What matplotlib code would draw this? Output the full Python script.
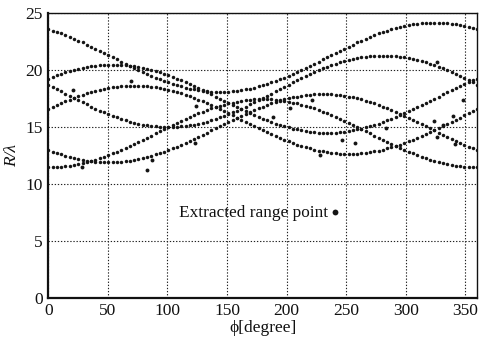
import numpy as np
import matplotlib
matplotlib.use("Agg")
import matplotlib.pyplot as plt

plt.rcParams['font.family'] = ['Liberation Serif', 'DejaVu Serif']

# sampling angles of the range profiles (degrees), 3.6 degree step
phi = np.arange(101) * 3.6

# range curves R/lambda
curve_a = [23.62, 23.50, 23.37, 23.24, 23.09, 22.94, 22.78, 22.62, 22.45, 22.27,
           22.09, 21.91, 21.72, 21.53, 21.34, 21.15, 20.96, 20.77, 20.58, 20.39,
           20.21, 20.03, 19.85, 19.68, 19.52, 19.36, 19.21, 19.06, 18.93, 18.80,
           18.68, 18.58, 18.48, 18.39, 18.31, 18.25, 18.20, 18.15, 18.12, 18.11,
           18.10, 18.11, 18.12, 18.15, 18.20, 18.25, 18.31, 18.39, 18.48, 18.58,
           18.68, 18.80, 18.93, 19.06, 19.21, 19.36, 19.52, 19.68, 19.85, 20.03,
           20.21, 20.39, 20.58, 20.77, 20.96, 21.15, 21.34, 21.53, 21.72, 21.91,
           22.09, 22.27, 22.45, 22.62, 22.78, 22.94, 23.09, 23.24, 23.37, 23.50,
           23.62, 23.73, 23.82, 23.91, 23.99, 24.05, 24.10, 24.15, 24.18, 24.19,
           24.20, 24.19, 24.18, 24.15, 24.10, 24.05, 23.99, 23.91, 23.82, 23.73,
           23.62]
curve_b = [18.74, 18.55, 18.35, 18.15, 17.95, 17.75, 17.56, 17.37, 17.18, 16.99,
           16.81, 16.63, 16.46, 16.30, 16.14, 15.99, 15.85, 15.72, 15.60, 15.49,
           15.39, 15.30, 15.22, 15.15, 15.10, 15.06, 15.03, 15.01, 15.00, 15.01,
           15.03, 15.06, 15.10, 15.15, 15.22, 15.30, 15.39, 15.49, 15.60, 15.72,
           15.85, 15.99, 16.14, 16.30, 16.46, 16.63, 16.81, 16.99, 17.18, 17.37,
           17.56, 17.75, 17.95, 18.15, 18.35, 18.55, 18.74, 18.93, 19.12, 19.31,
           19.49, 19.67, 19.84, 20.00, 20.16, 20.31, 20.45, 20.58, 20.70, 20.81,
           20.91, 21.00, 21.08, 21.15, 21.20, 21.24, 21.28, 21.29, 21.30, 21.29,
           21.28, 21.24, 21.20, 21.15, 21.08, 21.00, 20.91, 20.81, 20.70, 20.58,
           20.45, 20.31, 20.16, 20.00, 19.84, 19.67, 19.49, 19.31, 19.12, 18.93,
           18.74]
curve_c = [19.26, 19.41, 19.55, 19.69, 19.81, 19.93, 20.03, 20.13, 20.21, 20.29,
           20.35, 20.41, 20.45, 20.48, 20.49, 20.50, 20.49, 20.48, 20.45, 20.41,
           20.35, 20.29, 20.21, 20.13, 20.03, 19.93, 19.81, 19.69, 19.55, 19.41,
           19.26, 19.11, 18.95, 18.78, 18.60, 18.43, 18.25, 18.06, 17.88, 17.69,
           17.50, 17.31, 17.12, 16.94, 16.75, 16.57, 16.40, 16.22, 16.05, 15.89,
           15.74, 15.59, 15.45, 15.31, 15.19, 15.07, 14.97, 14.87, 14.79, 14.71,
           14.65, 14.59, 14.55, 14.52, 14.51, 14.50, 14.51, 14.52, 14.55, 14.59,
           14.65, 14.71, 14.79, 14.87, 14.97, 15.07, 15.19, 15.31, 15.45, 15.59,
           15.74, 15.89, 16.05, 16.22, 16.40, 16.57, 16.75, 16.94, 17.12, 17.31,
           17.50, 17.69, 17.88, 18.06, 18.25, 18.43, 18.60, 18.78, 18.95, 19.11,
           19.26]
curve_d = [16.58, 16.75, 16.93, 17.10, 17.26, 17.41, 17.56, 17.70, 17.84, 17.96,
           18.08, 18.18, 18.28, 18.36, 18.44, 18.50, 18.56, 18.60, 18.63, 18.64,
           18.65, 18.64, 18.63, 18.60, 18.56, 18.50, 18.44, 18.36, 18.28, 18.18,
           18.08, 17.96, 17.84, 17.70, 17.56, 17.41, 17.26, 17.10, 16.93, 16.75,
           16.58, 16.40, 16.21, 16.03, 15.84, 15.65, 15.46, 15.27, 15.09, 14.90,
           14.72, 14.55, 14.37, 14.20, 14.04, 13.89, 13.74, 13.60, 13.46, 13.34,
           13.22, 13.12, 13.02, 12.94, 12.86, 12.80, 12.74, 12.70, 12.67, 12.66,
           12.65, 12.66, 12.67, 12.70, 12.74, 12.80, 12.86, 12.94, 13.02, 13.12,
           13.22, 13.34, 13.46, 13.60, 13.74, 13.89, 14.04, 14.20, 14.37, 14.55,
           14.72, 14.90, 15.09, 15.27, 15.46, 15.65, 15.84, 16.03, 16.21, 16.40,
           16.58]
curve_e = [12.99, 12.85, 12.71, 12.59, 12.47, 12.37, 12.27, 12.19, 12.11, 12.05,
           11.99, 11.95, 11.92, 11.91, 11.90, 11.91, 11.92, 11.95, 11.99, 12.05,
           12.11, 12.19, 12.27, 12.37, 12.47, 12.59, 12.71, 12.85, 12.99, 13.14,
           13.29, 13.45, 13.62, 13.80, 13.97, 14.15, 14.34, 14.52, 14.71, 14.90,
           15.09, 15.28, 15.46, 15.65, 15.83, 16.00, 16.18, 16.35, 16.51, 16.66,
           16.81, 16.95, 17.09, 17.21, 17.33, 17.43, 17.53, 17.61, 17.69, 17.75,
           17.81, 17.85, 17.88, 17.89, 17.90, 17.89, 17.88, 17.85, 17.81, 17.75,
           17.69, 17.61, 17.53, 17.43, 17.33, 17.21, 17.09, 16.95, 16.81, 16.66,
           16.51, 16.35, 16.18, 16.00, 15.83, 15.65, 15.46, 15.28, 15.09, 14.90,
           14.71, 14.52, 14.34, 14.15, 13.97, 13.80, 13.62, 13.45, 13.29, 13.14,
           12.99]
curve_g = [11.45, 11.46, 11.47, 11.50, 11.54, 11.60, 11.66, 11.74, 11.82, 11.92,
           12.02, 12.14, 12.26, 12.40, 12.54, 12.69, 12.84, 13.00, 13.17, 13.35,
           13.52, 13.70, 13.89, 14.07, 14.26, 14.45, 14.64, 14.83, 15.01, 15.20,
           15.38, 15.55, 15.73, 15.90, 16.06, 16.21, 16.36, 16.50, 16.64, 16.76,
           16.88, 16.98, 17.08, 17.16, 17.24, 17.30, 17.36, 17.40, 17.43, 17.44,
           17.45, 17.44, 17.43, 17.40, 17.36, 17.30, 17.24, 17.16, 17.08, 16.98,
           16.88, 16.76, 16.64, 16.50, 16.36, 16.21, 16.06, 15.90, 15.73, 15.55,
           15.38, 15.20, 15.01, 14.83, 14.64, 14.45, 14.26, 14.07, 13.89, 13.70,
           13.52, 13.35, 13.17, 13.00, 12.84, 12.69, 12.54, 12.40, 12.26, 12.14,
           12.02, 11.92, 11.82, 11.74, 11.66, 11.60, 11.54, 11.50, 11.47, 11.46,
           11.45]

# isolated (spurious) detections
outlier_phi = [20.5, 28, 69, 82.5, 86.7, 123, 124, 188.6, 202.6, 221, 228,
               246.5, 257, 283.6, 323.5, 326, 326, 331, 341, 340, 348]
outlier_r = [18.3, 11.5, 19.05, 11.2, 12.1, 13.6, 16.85, 15.85, 16.65, 17.4, 12.55,
             13.85, 13.6, 14.95, 15.5, 14.15, 20.75, 15.2, 13.55, 16.0, 17.4]

# legend-like marker
marker_phi = [241]
marker_r = [7.5]
marker_label = "Extracted range point"

x_ticks = [0, 50, 100, 150, 200, 250, 300, 350]
y_ticks = [0, 5, 10, 15, 20, 25]

fig = plt.figure(figsize=(4.81, 3.40), dpi=100)
ax = fig.add_axes([0.1004, 0.125, 0.8919, 0.8353])

dot_color = '#141414'
for c in [curve_a, curve_b, curve_c, curve_d, curve_e, curve_g]:
    ax.plot(phi, c, linestyle='none', marker='o', ms=2.5, mew=0,
            color=dot_color, zorder=3)
ax.plot(outlier_phi, outlier_r, linestyle='none', marker='o', ms=2.8, mew=0,
        color=dot_color, zorder=3)
ax.plot(marker_phi, marker_r, linestyle='none', marker='o', ms=4.2, mew=0,
        color=dot_color, zorder=3)
ax.text(marker_phi[0] - 6.5, marker_r[0] - 0.38, marker_label, ha='right',
        va='baseline', fontsize=12.4, color='#111111')

ax.set_xlim(0, 360)
ax.set_ylim(0, 25)
ax.set_xticks(x_ticks)
ax.set_yticks(y_ticks)
ax.tick_params(axis='both', length=0, labelsize=12.5, colors='#111111', pad=4)
ax.grid(True, color='#222222', linestyle=(0, (1.2, 1.6)), linewidth=0.8)
ax.set_axisbelow(True)
for side in ['left', 'bottom']:
    ax.spines[side].set_linewidth(1.6)
for side in ['top', 'right']:
    ax.spines[side].set_linewidth(1.0)
for s in ax.spines.values():
    s.set_color('#111111')

ax.set_xlabel('\u03d5[degree]', fontsize=12.5, labelpad=1, color='#111111')
ax.set_ylabel('R/\u03bb', fontsize=12.5, style='italic', labelpad=4, color='#111111')

fig.savefig('out.png', dpi=100)
